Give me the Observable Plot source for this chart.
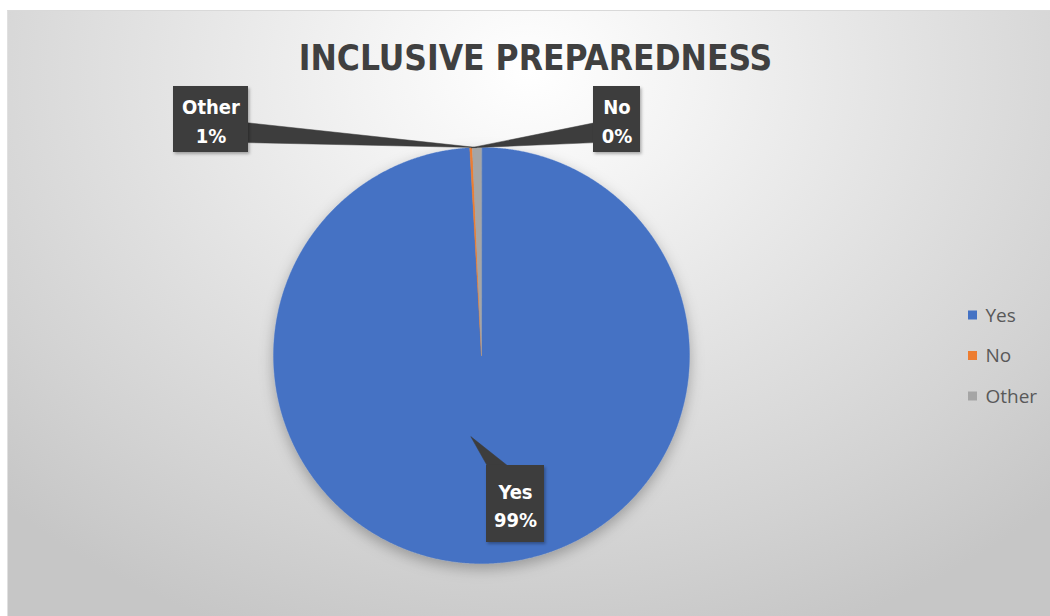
<!DOCTYPE html>
<html><head><meta charset="utf-8">
<script src="https://cdn.jsdelivr.net/npm/d3@7"></script>
<script src="https://cdn.jsdelivr.net/npm/@observablehq/plot@0.6"></script>
<style>
html,body{margin:0;padding:0;background:#fff;}
#wrap{position:relative;width:1050px;height:616px;overflow:hidden;}
#bg{position:absolute;left:7px;top:10px;width:1043px;height:606px;box-sizing:border-box;border-top:1px solid #d9d9d9;border-left:1px solid #e0e0e0;
 background:radial-gradient(ellipse 72% 100% at 50% 10%, #ffffff 0%, #f3f3f3 22%, #e0e0e0 55%, #d2d2d2 80%, #c6c6c6 100%);}
#chart{position:absolute;left:0;top:0;}
</style></head><body>
<div id="wrap"><div id="bg"></div><div id="chart"></div></div>
<script>
// ---- data ----
const categories = ["Yes", "No", "Other"];
const values = [99.1, 0.2, 0.7];
const colors = ["#4472C4", "#ED7D31", "#A5A5A5"];
const chartTitle = "INCLUSIVE PREPAREDNESS";

// ---- layout (pixels) ----
const W = 1050, H = 616;
const pieLayout = {cx: 481, cy: 355, r: 208};
const labelLayout = {
  Yes:   {x1: 486, x2: 544, y1: 465, y2: 542, tipR: 0.39, tipDx: -13, side: "top"},
  No:    {x1: 593, x2: 640, y1: 86,  y2: 152, tipR: 1.0, tipDx: 0, side: "left"},
  Other: {x1: 173, x2: 248, y1: 86,  y2: 152, tipR: 1.0, tipDx: 0, side: "right"}
};
const legendLayout = {x: 968, size: 9, y0: 315, dy: 40.5, textX: 985};

const data = categories.map((c, i) => ({key: c, value: values[i]}));
const total = d3.sum(values);
const arcs = d3.pie().sort(null).value(d => d.value)(data);

const {cx, cy, r} = pieLayout;
const pt = (a, rr) => [cx + rr * Math.sin(a), cy - rr * Math.cos(a)];

// slice polygons
const slicePts = [];
for (const a of arcs) {
  const n = Math.max(3, Math.ceil((a.endAngle - a.startAngle) / 0.005));
  slicePts.push({key: a.data.key, x: cx, y: cy});
  for (let i = 0; i <= n; i++) {
    const t = a.startAngle + (a.endAngle - a.startAngle) * i / n;
    const [x, y] = pt(t, r);
    slicePts.push({key: a.data.key, x, y});
  }
}

// labels + pointer wedges
const labels = arcs.map(a => {
  const L = labelLayout[a.data.key];
  const mid = (a.startAngle + a.endAngle) / 2;
  const [tx, ty] = pt(mid, r * L.tipR);
  return {key: a.data.key, pct: Math.round(a.data.value / total * 100), tx: tx + L.tipDx, ty, ...L};
});
const wedgePts = [];
for (const l of labels) {
  const h = l.y2 - l.y1, w = l.x2 - l.x1;
  let b1, b2;
  if (l.side === "right") { b1 = [l.x2 - 1, l.y1 + 0.55 * h]; b2 = [l.x2 - 1, l.y1 + 0.85 * h]; }
  else if (l.side === "left") { b1 = [l.x1 + 1, l.y1 + 0.85 * h]; b2 = [l.x1 + 1, l.y1 + 0.55 * h]; }
  else { b1 = [l.x1 + 0.02 * w, l.y1 + 1]; b2 = [l.x1 + 0.38 * w, l.y1 + 1]; }
  wedgePts.push({key: l.key, x: b1[0], y: b1[1]}, {key: l.key, x: l.tx, y: l.ty}, {key: l.key, x: b2[0], y: b2[1]});
}

const legend = categories.map((c, i) => ({key: c, y: legendLayout.y0 + i * legendLayout.dy}));

const condensed = "'DejaVu Sans Condensed', 'Liberation Sans Narrow', 'DejaVu Sans', sans-serif";

const plot = Plot.plot({
  width: W, height: H, margin: 0,
  x: {domain: [0, W], range: [0, W], axis: null},
  y: {domain: [0, H], range: [0, H], axis: null},
  color: {domain: categories, range: colors},
  style: {background: "transparent", overflow: "visible"},
  marks: [
    Plot.line(slicePts, {x: "x", y: "y", z: "key", fill: "key", stroke: "key", strokeWidth: 0.4, curve: "linear-closed"}),
    Plot.line(wedgePts, {x: "x", y: "y", z: "key", fill: "#3d3d3d", stroke: "#3d3d3d", strokeWidth: 0.5, curve: "linear-closed"}),
    Plot.rect(labels, {x1: "x1", x2: "x2", y1: "y1", y2: "y2", fill: "#3d3d3d"}),
    Plot.text(labels, {x: d => (d.x1 + d.x2) / 2, y: d => (d.y1 + d.y2) / 2, text: d => `${d.key}\n${d.pct}%`,
      fill: "white", fontWeight: "bold", fontSize: 20, lineHeight: 1.42, fontFamily: condensed}),
    Plot.text([chartTitle], {x: 535, y: 58.5, text: d => d, fill: "#404040", fontWeight: "bold", fontSize: 35, fontFamily: condensed}),
    Plot.rect(legend, {x1: legendLayout.x, x2: legendLayout.x + legendLayout.size,
      y1: d => d.y - legendLayout.size / 2, y2: d => d.y + legendLayout.size / 2, fill: "key"}),
    Plot.text(legend, {x: legendLayout.textX, y: "y", text: "key", textAnchor: "start", fill: "#595959", fontSize: 19, fontFamily: "'Open Sans', sans-serif"})
  ]
});

// soft shadows
const ns = "http://www.w3.org/2000/svg";
const defs = document.createElementNS(ns, "defs");
defs.innerHTML = `
<filter id="pieShadow" x="-20%" y="-20%" width="140%" height="140%">
  <feDropShadow dx="0" dy="5" stdDeviation="7" flood-color="#000" flood-opacity="0.28"/>
</filter>
<filter id="boxShadow" x="-20%" y="-20%" width="140%" height="140%">
  <feDropShadow dx="1.5" dy="2" stdDeviation="1.5" flood-color="#000" flood-opacity="0.3"/>
</filter>`;
plot.insertBefore(defs, plot.firstChild);
const lineGroups = plot.querySelectorAll('g[aria-label="line"]');
if (lineGroups[0]) lineGroups[0].setAttribute("filter", "url(#pieShadow)");
const rectGroups = plot.querySelectorAll('g[aria-label="rect"]');
if (rectGroups[0]) rectGroups[0].setAttribute("filter", "url(#boxShadow)");

document.getElementById("chart").appendChild(plot);
</script>
</body></html>
